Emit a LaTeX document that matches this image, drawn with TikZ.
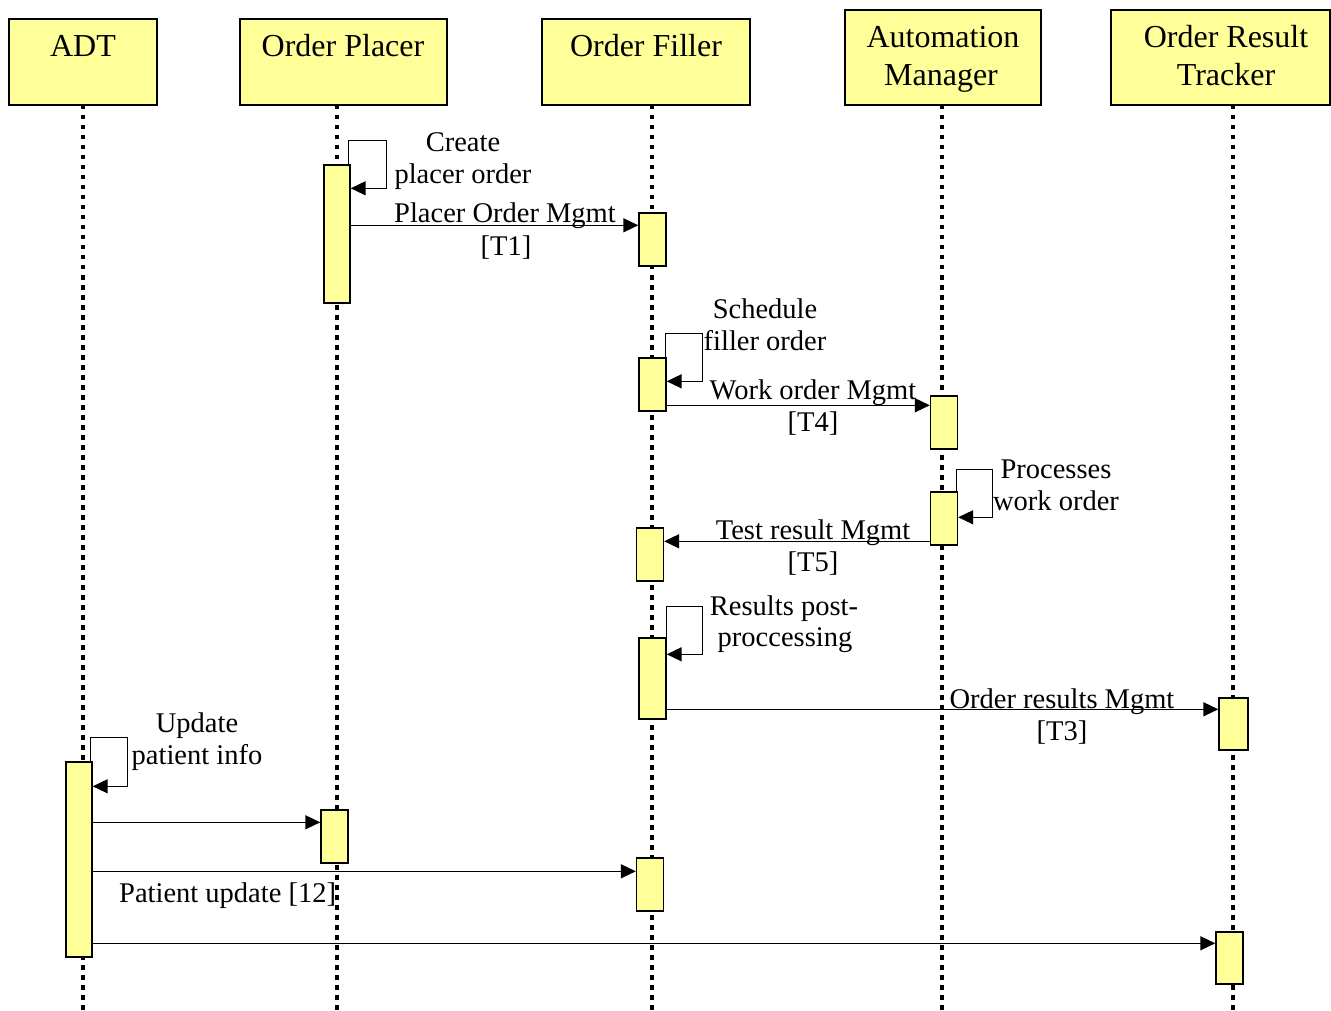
\documentclass[tikz,border=0pt]{standalone}
\usepackage{fontspec}
\setmainfont{Liberation Serif}
\usetikzlibrary{arrows.meta}
\definecolor{boxy}{HTML}{FFFF99}
\begin{document}
\begin{tikzpicture}[x=1pt,y=1pt,
  hbox/.style={draw, fill=boxy, line width=1.4pt, inner sep=0pt},
  htext/.style={anchor=base, inner sep=0pt, font=\fontsize{32}{38}\selectfont},
  lbl/.style={anchor=base, inner sep=0pt, font=\fontsize{28.5}{32}\selectfont},
  life/.style={line width=4.5pt, dash pattern=on 4.5pt off 5.5pt},
  act/.style={draw, fill=boxy, line width=1.4pt, inner sep=0pt, minimum width=27pt},
  msg/.style={line width=1.5pt, -{Triangle[length=15pt,width=14pt]}}
]
\useasboundingbox (0,0) rectangle (1331,-1011);

% headers
\node[hbox, minimum width=148pt, minimum height=86pt] (hADT) at (83,-62) {};
\node[hbox, minimum width=207pt, minimum height=86pt] (hOP) at (343.5,-62) {};
\node[hbox, minimum width=208pt, minimum height=86pt] (hOF) at (646,-62) {};
\node[hbox, minimum width=196pt, minimum height=95pt] (hAM) at (943,-57.5) {};
\node[hbox, minimum width=219pt, minimum height=95pt] (hORT) at (1220.5,-57.5) {};

\node[htext] (tADT) at (83,-57) {ADT};
\node[htext] (tOP) at (343,-57) {Order Placer};
\node[htext] (tOF) at (646,-57) {Order Filler};
\node[htext] (tAM1) at (943,-48) {Automation};
\node[htext] (tAM2) at (941,-86) {Manager};
\node[htext] (tORT1) at (1226,-48) {Order Result};
\node[htext] (tORT2) at (1226,-86) {Tracker};

% lifelines
\coordinate (lADT) at (83,-105);   \coordinate (lADTb) at (83,-1011);
\coordinate (lOP) at (337,-105);   \coordinate (lOPb) at (337,-1011);
\coordinate (lOF) at (652,-105);   \coordinate (lOFb) at (652,-1011);
\coordinate (lAM) at (942,-105);   \coordinate (lAMb) at (942,-1011);
\coordinate (lORT) at (1233,-105); \coordinate (lORTb) at (1233,-1011);
\draw[life] (lADT) -- (lADTb);
\draw[life] (lOP) -- (lOPb);
\draw[life] (lOF) -- (lOFb);
\draw[life] (lAM) -- (lAMb);
\draw[life] (lORT) -- (lORTb);

% activation boxes
\node[act, minimum width=26pt, minimum height=138pt] (a1) at (337,-234) {};
\node[act, minimum height=53pt] (a2) at (652.5,-239.5) {};
\node[act, minimum height=53pt] (a3) at (652.5,-384.5) {};
\node[act, minimum height=53pt] (a4) at (944,-422.5) {};
\node[act, minimum height=53pt] (a5) at (944,-518.5) {};
\node[act, minimum height=53pt] (a6) at (650,-554.5) {};
\node[act, minimum height=81pt] (a7) at (652.5,-678.5) {};
\node[act, minimum width=29pt, minimum height=52pt] (a8) at (1233.5,-724) {};
\node[act, minimum width=26pt, minimum height=195pt] (a9) at (79,-859.5) {};
\node[act, minimum height=53pt] (a10) at (334.5,-836.5) {};
\node[act, minimum height=53pt] (a11) at (650,-884.5) {};
\node[act, minimum height=52pt] (a12) at (1229.5,-958) {};

% self messages
\draw[msg] ([xshift=-2pt]a1.north east) -- ++(0,24) -- ++(38,0) |- ([yshift=-24pt]a1.north east);
\draw[msg] ([xshift=-1pt]a3.north east) -- ++(0,24) -- ++(37,0) |- ([yshift=-24pt]a3.north east);
\draw[msg] ([xshift=-1.5pt]a5.north east) -- ++(0,22) -- ++(36,0) |- ([yshift=-26pt]a5.north east);
\draw[msg] ([xshift=0pt]a7.north east) -- ++(0,31) -- ++(36,0) |- ([yshift=-17pt]a7.north east);
\draw[msg] ([xshift=-2pt]a9.north east) -- ++(0,24) -- ++(37,0) |- ([yshift=-25pt]a9.north east);

% message end points
\coordinate (e1) at ([yshift=-13pt]a2.north west);
\coordinate (e2) at ([yshift=-10pt]a4.north west);
\coordinate (e3) at ([yshift=-14pt]a6.north east);
\coordinate (e4) at ([yshift=-12pt]a8.north west);
\coordinate (e5) at ([yshift=-13pt]a10.north west);
\coordinate (e6) at ([yshift=-14pt]a11.north west);
\coordinate (e7) at ([yshift=-12pt]a12.north west);

% messages
\draw[msg] (a1.east |- e1) -- (e1);
\draw[msg] (a3.east |- e2) -- (e2);
\draw[msg] (a5.west |- e3) -- (e3);
\draw[msg] (a7.east |- e4) -- (e4);
\draw[msg] (a9.east |- e5) -- (e5);
\draw[msg] (a9.east |- e6) -- (e6);
\draw[msg] (a9.east |- e7) -- (e7);

% labels
\node[lbl] (c1) at (463,-152) {Create};
\node[lbl] (c2) at (463,-184) {placer order};
\node[lbl] (m1a) at (505,-223) {Placer Order Mgmt};
\node[lbl] (m1b) at (506,-255) {[T1]};
\node[lbl] (s2a) at (765,-318) {Schedule};
\node[lbl] (s2b) at (765,-350) {filler order};
\node[lbl] (m2a) at (813,-399) {Work order Mgmt};
\node[lbl] (m2b) at (813,-431) {[T4]};
\node[lbl] (s3a) at (1056,-478) {Processes};
\node[lbl] (s3b) at (1056,-510) {work order};
\node[lbl] (m3a) at (813,-539) {Test result Mgmt};
\node[lbl] (m3b) at (813,-571) {[T5]};
\node[lbl] (s4a) at (784,-615) {Results post-};
\node[lbl] (s4b) at (785,-646) {proccessing};
\node[lbl] (m4a) at (1062,-708) {Order results Mgmt};
\node[lbl] (m4b) at (1062,-740) {[T3]};
\node[lbl] (s5a) at (197,-732) {Update};
\node[lbl] (s5b) at (197,-764) {patient info};
\node[lbl, anchor=base west] (m6a) at (119,-902) {Patient update [12]};
\end{tikzpicture}
\end{document}
